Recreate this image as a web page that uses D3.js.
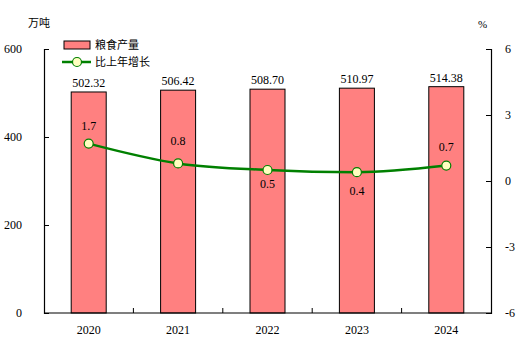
<!DOCTYPE html>
<html>
<head>
<meta charset="utf-8">
<script src="https://d3js.org/d3.v7.min.js"></script>
<style>
  body { margin: 0; background: #fff; }
  svg text { font-family: "Liberation Serif", "Times New Roman", "DejaVu Serif", serif; font-size: 12px; fill: #000; }
  svg text.cjk { font-family: "Noto Sans CJK SC", sans-serif; font-size: 11px; }
</style>
</head>
<body>
<div id="chart"></div>
<script>
const years = ["2020", "2021", "2022", "2023", "2024"];
const output = [502.32, 506.42, 508.70, 510.97, 514.38];
const growth = [1.7, 0.8, 0.5, 0.4, 0.7];
const leftTicks = [0, 200, 400, 600];
const rightTicks = [-6, -3, 0, 3, 6];

const width = 522, height = 354;
const margin = {top: 49, right: 31, bottom: 41, left: 44};
const serif = "'Liberation Serif', 'Times New Roman', serif";

const svg = d3.select("#chart").append("svg")
    .attr("width", width).attr("height", height);

const x = d3.scaleBand().domain(years)
    .range([margin.left, width - margin.right]);
const y = d3.scaleLinear().domain([0, 600])
    .range([height - margin.bottom, margin.top]);
const y2 = d3.scaleLinear().domain([-6, 6])
    .range([height - margin.bottom, margin.top]);
const cx = i => x(years[i]) + x.bandwidth() / 2;

// bars
svg.selectAll("rect.bar").data(output).join("rect")
    .attr("class", "bar")
    .attr("x", (d, i) => cx(i) - 17.5)
    .attr("width", 35)
    .attr("y", d => y(d))
    .attr("height", d => y(0) - y(d))
    .attr("fill", "#ff8080")
    .attr("stroke", "#000")
    .attr("stroke-width", 1);

svg.selectAll("text.bv").data(output).join("text")
    .attr("class", "bv")
    .attr("x", (d, i) => cx(i))
    .attr("y", d => y(d) - 5)
    .attr("text-anchor", "middle")
    .style("font-family", serif)
    .text(d => d.toFixed(2));

// axes
const left = svg.append("g")
    .attr("transform", `translate(${margin.left},0)`)
    .call(d3.axisLeft(y).tickValues(leftTicks).tickSize(-5).tickPadding(22)
      .tickFormat(d => String(d)));
const right = svg.append("g")
    .attr("transform", `translate(${width - margin.right},0)`)
    .call(d3.axisRight(y2).tickValues(rightTicks).tickSize(-5).tickPadding(14)
      .tickFormat(d => String(d)));
[left, right].forEach(g => {
  g.attr("font-family", null);
  g.select(".domain").attr("stroke", "#000").attr("stroke-width", 1.2);
  g.selectAll(".tick line").attr("stroke", "#000");
  g.selectAll(".tick text").style("font-family", serif).style("font-size", "12px");
});

const bottom = svg.append("g")
    .attr("transform", `translate(0,${y(0)})`);
bottom.append("line")
    .attr("x1", margin.left).attr("x2", width - margin.right)
    .attr("stroke", "#000").attr("stroke-width", 1.2);
bottom.selectAll("line.sep").data(years.slice(1)).join("line")
    .attr("class", "sep")
    .attr("x1", d => x(d)).attr("x2", d => x(d))
    .attr("y1", 0).attr("y2", -5)
    .attr("stroke", "#000");
bottom.selectAll("text").data(years).join("text")
    .attr("x", d => x(d) + x.bandwidth() / 2)
    .attr("y", 21)
    .attr("text-anchor", "middle")
    .style("font-family", serif)
    .text(d => d);

// growth line
const line = d3.line()
    .x((d, i) => cx(i))
    .y(d => y2(d))
    .curve(d3.curveMonotoneX);
svg.append("path").datum(growth)
    .attr("d", line)
    .attr("fill", "none")
    .attr("stroke", "#008000")
    .attr("stroke-width", 2.5);
svg.selectAll("circle.pt").data(growth).join("circle")
    .attr("class", "pt")
    .attr("cx", (d, i) => cx(i))
    .attr("cy", d => y2(d))
    .attr("r", 4.5)
    .attr("fill", "#ffffc0")
    .attr("stroke", "#008000")
    .attr("stroke-width", 1.2);

// label offsets from the point (negative = above)
const labelDy = [-14, -18, 18, 23, -15];
svg.selectAll("text.gv").data(growth).join("text")
    .attr("class", "gv")
    .attr("x", (d, i) => cx(i))
    .attr("y", (d, i) => y2(d) + labelDy[i])
    .attr("text-anchor", "middle")
    .style("font-family", serif)
    .text(d => d.toFixed(1));

// units
svg.append("text").attr("class", "cjk").attr("x", 28).attr("y", 27).text("万吨");
svg.append("text").attr("x", 478).attr("y", 28).style("font-family", serif)
    .style("font-size", "11px").text("%");

// legend
svg.append("rect").attr("x", 64).attr("y", 41).attr("width", 26).attr("height", 8)
    .attr("fill", "#ff8080").attr("stroke", "#000");
svg.append("text").attr("class", "cjk").attr("x", 95).attr("y", 49).text("粮食产量");
svg.append("line").attr("x1", 62).attr("x2", 91).attr("y1", 62).attr("y2", 62)
    .attr("stroke", "#008000").attr("stroke-width", 2.5);
svg.append("circle").attr("cx", 77).attr("cy", 62).attr("r", 4.5)
    .attr("fill", "#ffffc0").attr("stroke", "#008000").attr("stroke-width", 1.2);
svg.append("text").attr("class", "cjk").attr("x", 95).attr("y", 66).text("比上年增长");
</script>
</body>
</html>
